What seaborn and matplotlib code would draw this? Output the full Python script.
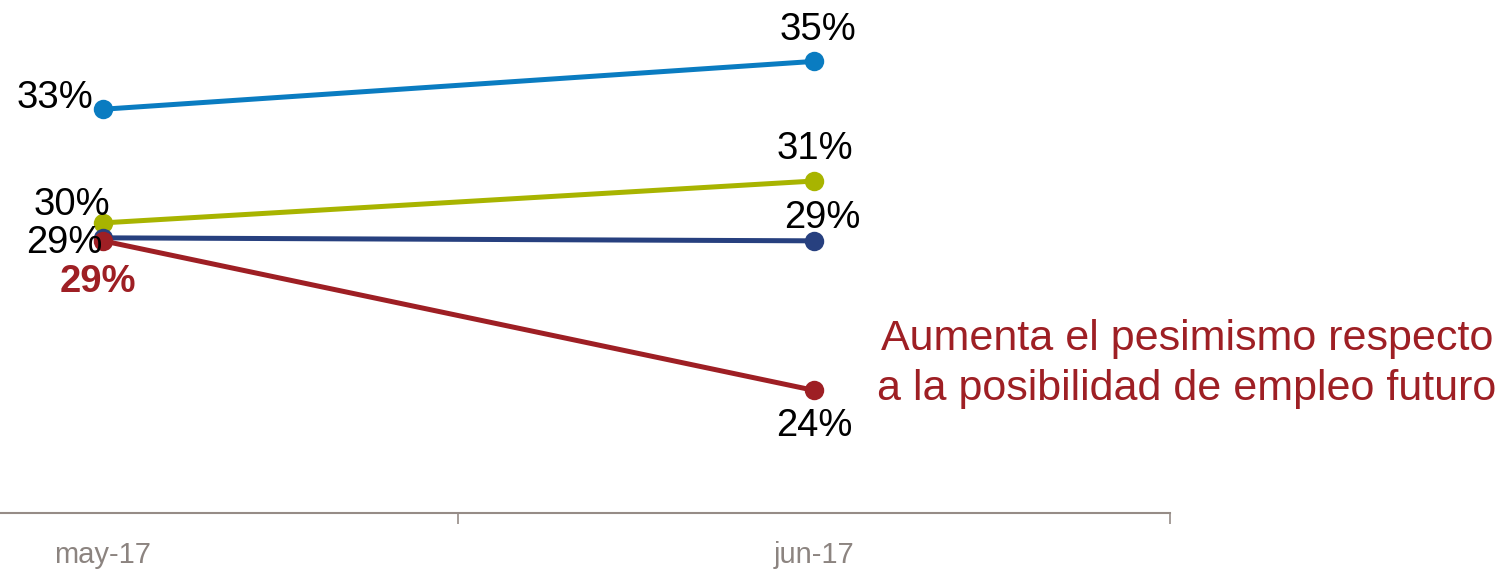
import matplotlib
matplotlib.use("Agg")
import matplotlib.pyplot as plt
import pandas as pd
import seaborn as sns

months = ["may-17", "jun-17"]
series = ["Azul", "Verde", "Marino", "Rojo"]
azul = [33.4, 35.0]
verde = [29.6, 31.0]
marino = [29.1, 29.0]
rojo = [29.0, 24.0]
labels_azul = ["33%", "35%"]
labels_verde = ["30%", "31%"]
labels_marino = ["29%", "29%"]
labels_rojo = ["29%", "24%"]
colors = ["#0a7cc1", "#a8b400", "#27407f", "#9e1f24"]
nota = "Aumenta el pesimismo respecto\na la posibilidad de empleo futuro"

sns.set_style("white")
plt.rcParams["font.family"] = ["Liberation Sans", "DejaVu Sans"]

df = pd.DataFrame({
    "mes": months * 4,
    "serie": [s for s in series for _ in months],
    "valor": azul + verde + marino + rojo,
})

fig = plt.figure(figsize=(15.04, 5.70), dpi=100)
ax = fig.add_axes([-0.1679, 0.1, 0.9455, 0.892])

sns.lineplot(data=df, x="mes", y="valor", hue="serie", palette=colors,
             marker="o", markersize=14, markeredgewidth=0, linewidth=3.6,
             legend=False, ax=ax, sort=False)

ax.set_xlim(-0.5, 1.5)
ax.set_ylim(19.9, 36.9)
ax.set_xlabel("")
ax.set_ylabel("")
ax.set_yticks([])
ax.set_xticks([0, 1])
ax.set_xticklabels(months, fontsize=21, color="#8c8480")
ax.tick_params(axis="x", which="major", length=0, pad=20)
ax.set_xticks([-0.5, 0.5, 1.5], minor=True)
ax.tick_params(axis="x", which="minor", bottom=True, length=8, width=1.2,
               color="#968c87", direction="out")
for s in ["top", "right", "left"]:
    ax.spines[s].set_visible(False)
ax.spines["bottom"].set_color("#968c87")
ax.spines["bottom"].set_linewidth(1.5)

fs = 27.5
def lab(x, y, txt, dx, dy, ha="center", color="black", weight="normal"):
    ax.annotate(txt, (x, y), xytext=(dx, dy), textcoords="offset pixels",
                ha=ha, va="center", fontsize=fs, color=color, fontweight=weight)

lab(0, azul[0], labels_azul[0], -10, 11, ha="right")
lab(1, azul[1], labels_azul[1], 4, 31)
lab(0, verde[0], labels_verde[0], -31, 18)
lab(1, verde[1], labels_verde[1], 1, 32)
lab(0, marino[0], labels_marino[0], -39, -5)
lab(1, marino[1], labels_marino[1], 8, 23)
lab(0, rojo[0], labels_rojo[0], -5, -41, color=colors[3], weight="bold")
lab(1, rojo[1], labels_rojo[1], 0, -36)

fig.text(1187 / 1504, 1 - 364 / 570, nota, ha="center", va="center",
         fontsize=31, color=colors[3], linespacing=1.32)

fig.savefig("out.png", dpi=100)
